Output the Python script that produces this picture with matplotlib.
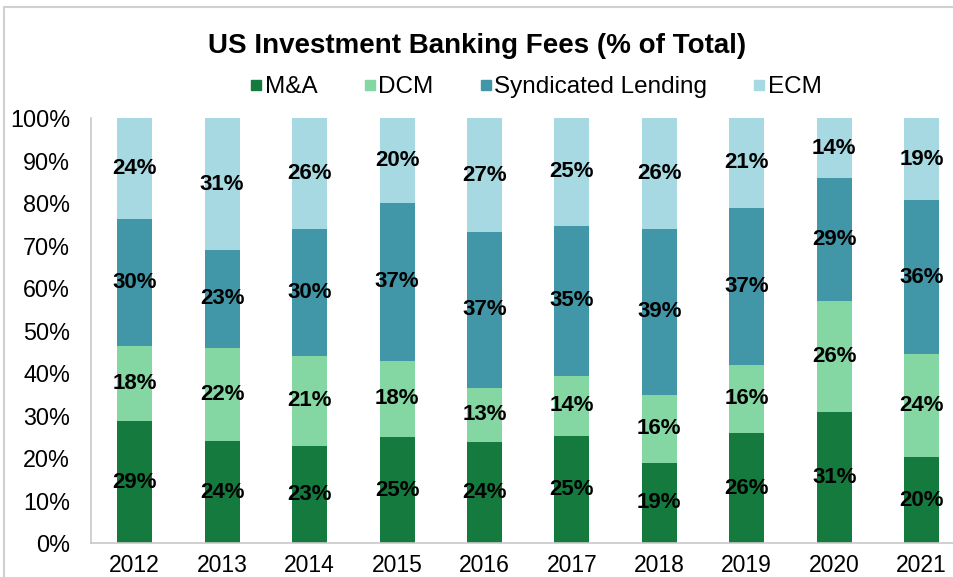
import matplotlib.pyplot as plt
import numpy as np
from matplotlib.patches import Rectangle
from matplotlib.lines import Line2D

plt.rcParams['font.family'] = ['Liberation Sans', 'DejaVu Sans']

years = ['2012', '2013', '2014', '2015', '2016', '2017', '2018', '2019', '2020', '2021']
series = ['M&A', 'DCM', 'Syndicated Lending', 'ECM']
mna = [29, 24, 23, 25, 24, 25, 19, 26, 31, 20]
dcm = [18, 22, 21, 18, 13, 14, 16, 16, 26, 24]
synd = [30, 23, 30, 37, 37, 35, 39, 37, 29, 36]
ecm = [24, 31, 26, 20, 27, 25, 26, 21, 14, 19]
colors = ['#157A3D', '#84D6A2', '#4197A8', '#A6D9E1']

W, H = 954, 577
fig = plt.figure(figsize=(W / 100, H / 100), dpi=100)
ax = fig.add_axes([91 / W, 1 - 543.3 / H, (W - 91) / W, (543.3 - 118.3) / H])

data = np.array([mna, dcm, synd, ecm], dtype=float)
share = data / data.sum(axis=0) * 100
x = np.arange(len(years))
bottom = np.zeros(len(years))
for i in range(len(series)):
    ax.bar(x, share[i], width=0.4, bottom=bottom, color=colors[i], label=series[i])
    for j in range(len(years)):
        ax.text(x[j], bottom[j] + share[i][j] / 2, '%d%%' % data[i][j],
                ha='center', va='center', fontsize=16, fontweight='bold', color='black')
    bottom += share[i]

ax.set_xlim(-0.5, 9.37)
ax.set_ylim(0, 100)
ax.set_yticks(np.arange(0, 101, 10))
ax.set_yticklabels(['%d%%' % v for v in range(0, 101, 10)])
ax.set_xticks(x)
ax.set_xticklabels(years)
ax.tick_params(axis='y', length=0, pad=15, labelsize=16.8)
ax.tick_params(axis='x', length=0, pad=8, labelsize=16.5)
for s in ['top', 'right']:
    ax.spines[s].set_visible(False)
for s in ['left', 'bottom']:
    ax.spines[s].set_color('#C8C8C8')
    ax.spines[s].set_linewidth(1.2)

fig.text(477 / W, 1 - 46 / H, 'US Investment Banking Fees (% of Total)',
         ha='center', va='center', fontsize=20, fontweight='bold')

handles = [Line2D([], [], marker='s', linestyle='none', markersize=7.5,
                  markerfacecolor=c, markeredgecolor=c) for c in colors]
fig.legend(handles, series, loc='center', bbox_to_anchor=(536 / W, 1 - 87 / H),
           ncol=4, frameon=False, fontsize=17.5, handletextpad=0.1,
           columnspacing=1.9, handlelength=0.5)

fig.patches.append(Rectangle((4.5 / W, -0.1), 1.2, 1.1 - 7.5 / H, transform=fig.transFigure,
                             fill=False, edgecolor='#D0D0D0', linewidth=1.5))

fig.savefig('out.png', dpi=100)
